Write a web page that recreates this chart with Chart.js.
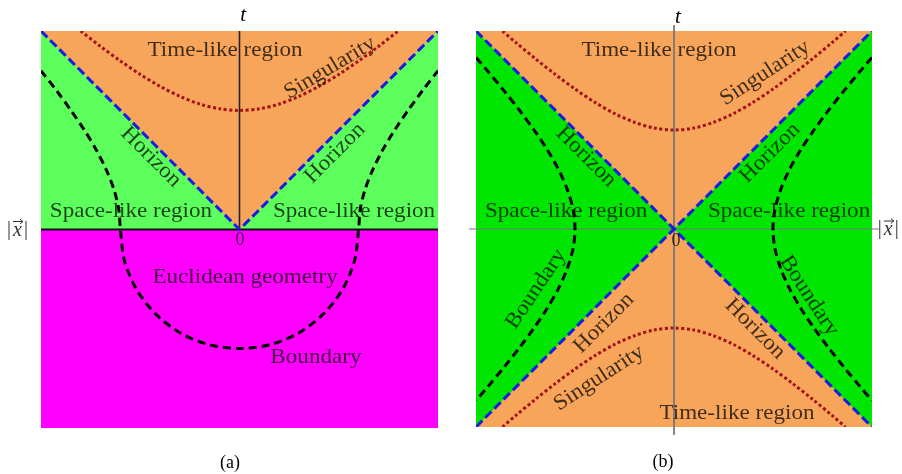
<!DOCTYPE html>
<html>
<head>
<meta charset="utf-8">
<script src="https://cdn.jsdelivr.net/npm/chart.js@4.4.1/dist/chart.umd.min.js"></script>
<style>
  html, body { margin: 0; padding: 0; background: #fff; }
  #wrap { position: relative; width: 902px; height: 474px; overflow: hidden; }
  .panel { position: absolute; top: 0; width: 451px; height: 474px; }
</style>
</head>
<body>
<div id="wrap">
  <div class="panel" style="left:0"><canvas id="chartA" width="451" height="474"></canvas></div>
  <div class="panel" style="left:451px"><canvas id="chartB" width="451" height="474"></canvas></div>
</div>
<script>
// ---- panel (a) : Lorentzian upper half + Euclidean lower half ----
var horizonAx = [-1, 0, 1];
var horizonAt = [1, 0, 1];
var singAx = [-0.8, -0.7, -0.6, -0.5, -0.4, -0.3, -0.2, -0.1, 0, 0.1, 0.2, 0.3, 0.4, 0.5, 0.6, 0.7, 0.8];
var singAt = [1.0, 0.922, 0.849, 0.781, 0.721, 0.671, 0.632, 0.608, 0.6, 0.608, 0.632, 0.671, 0.721, 0.781, 0.849, 0.922, 1.0];
var boundAx = [-1.0, -0.922, -0.849, -0.781, -0.721, -0.671, -0.632, -0.608, -0.6, -0.58, -0.52, -0.424, -0.3, -0.155, 0,
               0.155, 0.3, 0.424, 0.52, 0.58, 0.6, 0.608, 0.632, 0.671, 0.721, 0.781, 0.849, 0.922, 1.0];
var boundAt = [0.8, 0.7, 0.6, 0.5, 0.4, 0.3, 0.2, 0.1, 0, -0.155, -0.3, -0.424, -0.52, -0.58, -0.6,
               -0.58, -0.52, -0.424, -0.3, -0.155, 0, 0.1, 0.2, 0.3, 0.4, 0.5, 0.6, 0.7, 0.8];

// ---- panel (b) : full Lorentzian plane ----
var horizon1Bx = [-1, 1];
var horizon1Bt = [1, -1];
var horizon2Bx = [-1, 1];
var horizon2Bt = [-1, 1];
var singBx = [-0.866, -0.8, -0.7, -0.6, -0.5, -0.4, -0.3, -0.2, -0.1, 0, 0.1, 0.2, 0.3, 0.4, 0.5, 0.6, 0.7, 0.8, 0.866];
var singBtUp = [1.0, 0.943, 0.860, 0.781, 0.707, 0.640, 0.583, 0.539, 0.510, 0.5, 0.510, 0.539, 0.583, 0.640, 0.707, 0.781, 0.860, 0.943, 1.0];
var singBtDown = [-1.0, -0.943, -0.860, -0.781, -0.707, -0.640, -0.583, -0.539, -0.510, -0.5, -0.510, -0.539, -0.583, -0.640, -0.707, -0.781, -0.860, -0.943, -1.0];
var boundBt = [0.866, 0.8, 0.7, 0.6, 0.5, 0.4, 0.3, 0.2, 0.1, 0, -0.1, -0.2, -0.3, -0.4, -0.5, -0.6, -0.7, -0.8, -0.866];
var boundBxLeft = [-1.0, -0.943, -0.860, -0.781, -0.707, -0.640, -0.583, -0.539, -0.510, -0.5, -0.510, -0.539, -0.583, -0.640, -0.707, -0.781, -0.860, -0.943, -1.0];
var boundBxRight = [1.0, 0.943, 0.860, 0.781, 0.707, 0.640, 0.583, 0.539, 0.510, 0.5, 0.510, 0.539, 0.583, 0.640, 0.707, 0.781, 0.860, 0.943, 1.0];

// region outlines (corners of the coloured areas)
var rectTopX = [-1, 1, 1, -1, -1];
var rectTopT = [1, 1, 0, 0, 1];
var rectBotX = [-1, 1, 1, -1, -1];
var rectBotT = [0, 0, -1, -1, 0];
var rectAllX = [-1, 1, 1, -1, -1];
var rectAllT = [1, 1, -1, -1, 1];
var coneUpX = [-1, 0, 1, -1];
var coneUpT = [1, 0, 1, 1];
var coneDownX = [-1, 0, 1, -1];
var coneDownT = [-1, 0, -1, -1];

var ORANGE = '#f7a55b';
var GREEN_A = '#5cff5c';
var GREEN_B = '#00e600';
var MAGENTA = '#ff00ff';
var TXT = 'rgba(0,0,0,0.74)';
var SERIF = '"Liberation Serif", "DejaVu Serif", serif';

function pts(xs, ts) {
    return xs.map(function(x, i) { return { x: x, y: ts[i] }; });
}

function region(xs, ts, color) {
    return { data: pts(xs, ts), fill: 'shape', backgroundColor: color, borderColor: 'rgba(0,0,0,0)',
             borderWidth: 0, pointRadius: 0, tension: 0, order: 10 };
}

function curve(xs, ts, color, dash, width, order, extra) {
    var d = { data: pts(xs, ts), fill: false, borderColor: color, borderWidth: width, borderDash: dash,
              borderCapStyle: 'butt', pointRadius: 0, tension: 0.3, order: order };
    if (extra) Object.assign(d, extra);
    return d;
}

// |x| con flecha encima (el caracter combinante no existe en las fuentes)
function drawVecX(ctx) {
    ctx.fillStyle = '#333';
    ctx.strokeStyle = '#333';
    ctx.textBaseline = 'middle';
    ctx.textAlign = 'left';
    ctx.font = '20px ' + SERIF;
    ctx.fillText('|', -11, 0);
    ctx.fillText('|', 6, 0);
    ctx.font = 'italic 20px ' + SERIF;
    ctx.fillText('x', -5, 1);
    ctx.lineWidth = 1;
    ctx.beginPath();
    ctx.moveTo(-5, -8); ctx.lineTo(5, -8);
    ctx.moveTo(2, -10.5); ctx.lineTo(5, -8); ctx.lineTo(2, -5.5);
    ctx.stroke();
}

// texto sobre la grafica (posiciones en coordenadas de datos)
var textPlugin = {
    id: 'texts',
    afterDraw: function(chart, args, opts) {
        var ctx = chart.ctx, xs = chart.scales.x, ys = chart.scales.y;
        (opts.items || []).forEach(function(l) {
            ctx.save();
            ctx.translate(xs.getPixelForValue(l.x), ys.getPixelForValue(l.t));
            if (l.text === 'VECX') { drawVecX(ctx); ctx.restore(); return; }
            ctx.rotate((l.rot || 0) * Math.PI / 180);
            ctx.scale(l.font ? 1 : 1.05, 1);
            ctx.font = l.font || ('22px ' + SERIF);
            ctx.fillStyle = l.color || TXT;
            ctx.textAlign = 'center';
            ctx.textBaseline = 'middle';
            ctx.fillText(l.text, 0, 0);
            ctx.restore();
        });
    }
};

var labelsA = [
    { text: 'Time-like region', x: -0.073, t: 0.904 },
    { text: 'Singularity', x: 0.456, t: 0.814, rot: -31 },
    { text: 'Horizon', x: -0.446, t: 0.365, rot: 45 },
    { text: 'Horizon', x: 0.481, t: 0.385, rot: -45 },
    { text: 'Space-like region', x: -0.547, t: 0.093 },
    { text: 'Space-like region', x: 0.577, t: 0.093 },
    { text: '0', x: 0.003, t: -0.055, font: '18px ' + SERIF },
    { text: 'Euclidean geometry', x: 0.028, t: -0.239 },
    { text: 'Boundary', x: 0.385, t: -0.642 },
    { text: 't', x: 0.018, t: 1.076, font: 'italic 21px ' + SERIF, color: '#000' },
    { text: 'VECX', x: -1.116, t: 0.0 },
    { text: '(a)', x: -0.048, t: -1.176, font: '18px ' + SERIF, color: '#000' }
];

var labelsB = [
    { text: 'Time-like region', x: -0.076, t: 0.904 },
    { text: 'Singularity', x: 0.46, t: 0.788, rot: -33 },
    { text: 'Horizon', x: -0.444, t: 0.364, rot: 45 },
    { text: 'Horizon', x: 0.485, t: 0.384, rot: -45 },
    { text: 'Space-like region', x: -0.545, t: 0.091 },
    { text: 'Space-like region', x: 0.581, t: 0.091 },
    { text: '0', x: 0.01, t: -0.06, font: '18px ' + SERIF },
    { text: 'Boundary', x: -0.697, t: -0.303, rot: -56 },
    { text: 'Boundary', x: 0.682, t: -0.338, rot: 57 },
    { text: 'Horizon', x: -0.354, t: -0.475, rot: -45 },
    { text: 'Horizon', x: 0.409, t: -0.505, rot: 45 },
    { text: 'Singularity', x: -0.379, t: -0.753, rot: -33 },
    { text: 'Time-like region', x: 0.318, t: -0.929 },
    { text: 't', x: 0.02, t: 1.07, font: 'italic 21px ' + SERIF, color: '#000' },
    { text: 'VECX', x: 1.085, t: 0.0 },
    { text: '(b)', x: -0.056, t: -1.177, font: '18px ' + SERIF, color: '#000' }
];

function baseOptions(pad, items) {
    return {
        responsive: false,
        animation: false,
        events: [],
        layout: { padding: pad },
        scales: {
            x: { type: 'linear', min: -1, max: 1, display: false },
            y: { type: 'linear', min: -1, max: 1, display: false }
        },
        plugins: {
            legend: { display: false },
            tooltip: { enabled: false },
            texts: { items: items }
        }
    };
}

new Chart(document.getElementById('chartA').getContext('2d'), {
    type: 'line',
    data: {
        datasets: [
            region(rectBotX, rectBotT, MAGENTA),
            region(rectTopX, rectTopT, GREEN_A),
            Object.assign(region(coneUpX, coneUpT, ORANGE), { order: 9 }),
            curve([-1, 1], [0, 0], '#111', [], 2, 5, { tension: 0 }),
            curve([0, 0], [0, 1], '#222', [], 1.6, 5, { tension: 0 }),
            curve(boundAx, boundAt, '#000', [8, 5], 3, 3),
            curve(singAx, singAt, '#a3141a', [3, 2.5], 3, 2),
            curve(horizonAx, horizonAt, '#1c1ce0', [9, 4], 3, 1, { tension: 0 })
        ]
    },
    options: baseOptions({ left: 41, right: 13, top: 31, bottom: 46 }, labelsA),
    plugins: [textPlugin]
});

new Chart(document.getElementById('chartB').getContext('2d'), {
    type: 'line',
    data: {
        datasets: [
            region(rectAllX, rectAllT, GREEN_B),
            Object.assign(region(coneUpX, coneUpT, ORANGE), { order: 9 }),
            Object.assign(region(coneDownX, coneDownT, ORANGE), { order: 9 }),
            curve([-1.035, 1.035], [0, 0], '#777', [], 1, 5, { tension: 0, clip: false }),
            curve([0, 0], [1.03, -1.04], '#777', [], 1, 5, { tension: 0, clip: false }),
            curve(boundBxLeft, boundBt, '#000', [8, 5], 3, 3),
            curve(boundBxRight, boundBt, '#000', [8, 5], 3, 3),
            curve(singBx, singBtUp, '#a3141a', [3, 2.5], 3, 2),
            curve(singBx, singBtDown, '#a3141a', [3, 2.5], 3, 2),
            curve(horizon1Bx, horizon1Bt, '#1c1ce0', [9, 4], 3, 1, { tension: 0 }),
            curve(horizon2Bx, horizon2Bt, '#1c1ce0', [9, 4], 3, 1, { tension: 0 })
        ]
    },
    options: baseOptions({ left: 25, right: 30, top: 31, bottom: 47 }, labelsB),
    plugins: [textPlugin]
});
</script>
</body>
</html>
